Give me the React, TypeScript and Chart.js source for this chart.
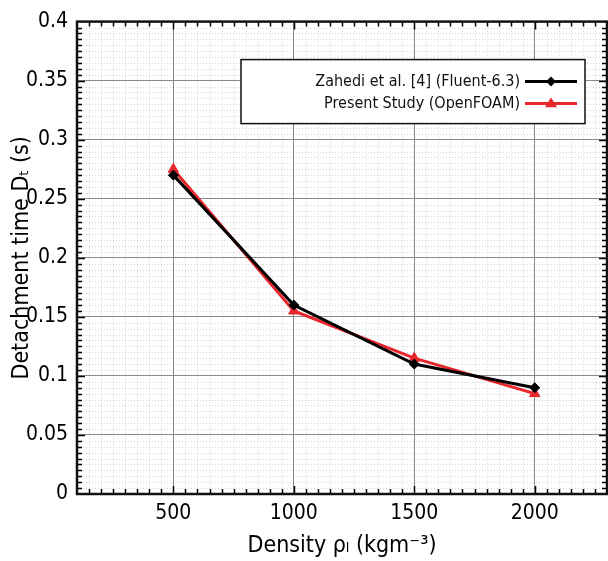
import React, { useEffect, useRef } from 'react';
import { Chart, registerables } from 'chart.js';

Chart.register(...registerables);

// ---- data ----
const densities = [500, 1000, 1500, 2000];
const zahediTimes = [0.27, 0.16, 0.11, 0.09];
const presentTimes = [0.275, 0.155, 0.115, 0.085];
const seriesLabels = ['Zahedi et al. [4] (Fluent-6.3)', 'Present Study (OpenFOAM)'];
const seriesColors = ['#000000', '#e8262b'];
const xTickValues = [500, 1000, 1500, 2000];
const xTickLabels = ['500', '1000', '1500', '2000'];
const yTickValues = [0, 0.05, 0.1, 0.15, 0.2, 0.25, 0.3, 0.35, 0.4];
const yTickLabels = ['0', '0.05', '0.1', '0.15', '0.2', '0.25', '0.3', '0.35', '0.4'];
const xRange = [100, 2300];
const yRange = [0, 0.4];
const xMinorStep = 50;
const yMinorStep = 0.005;

const FONT = '"DejaVu Sans Condensed", "DejaVu Sans", sans-serif';

const framePlugin = {
  id: 'frameAndMinor',
  beforeDatasetsDraw(chart: any) {
    const { ctx, chartArea: a, scales } = chart;
    const xs = scales.x;
    const ys = scales.y;
    ctx.save();
    // minor dotted grid
    ctx.strokeStyle = 'rgba(0,0,0,0.17)';
    ctx.lineWidth = 1;
    ctx.setLineDash([1, 2]);
    const nx = Math.round((xRange[1] - xRange[0]) / xMinorStep);
    for (let i = 1; i < nx; i++) {
      const v = xRange[0] + i * xMinorStep;
      if (xTickValues.includes(v)) continue;
      const px = Math.round(xs.getPixelForValue(v)) + 0.5;
      ctx.beginPath();
      ctx.moveTo(px, a.top);
      ctx.lineTo(px, a.bottom);
      ctx.stroke();
    }
    const ny = Math.round((yRange[1] - yRange[0]) / yMinorStep);
    for (let i = 1; i < ny; i++) {
      if (i % 10 === 0) continue;
      const v = yRange[0] + i * yMinorStep;
      const py = Math.round(ys.getPixelForValue(v)) + 0.5;
      ctx.beginPath();
      ctx.moveTo(a.left, py);
      ctx.lineTo(a.right, py);
      ctx.stroke();
    }
    ctx.setLineDash([]);
    // minor ticks, inward, all four sides
    ctx.strokeStyle = '#000';
    ctx.lineWidth = 1.5;
    for (let i = 1; i < nx; i++) {
      const v = xRange[0] + i * xMinorStep;
      const len = xTickValues.includes(v) ? 8 : 5;
      const px = Math.round(xs.getPixelForValue(v)) + 0.5;
      ctx.beginPath();
      ctx.moveTo(px, a.bottom);
      ctx.lineTo(px, a.bottom - len);
      ctx.moveTo(px, a.top);
      ctx.lineTo(px, a.top + len);
      ctx.stroke();
    }
    for (let i = 1; i < ny; i++) {
      const v = yRange[0] + i * yMinorStep;
      const len = i % 10 === 0 ? 8 : 5;
      const py = Math.round(ys.getPixelForValue(v)) + 0.5;
      ctx.beginPath();
      ctx.moveTo(a.left, py);
      ctx.lineTo(a.left + len, py);
      ctx.moveTo(a.right, py);
      ctx.lineTo(a.right - len, py);
      ctx.stroke();
    }
    // frame
    ctx.lineWidth = 2.5;
    ctx.strokeStyle = '#111';
    ctx.strokeRect(a.left, a.top, a.right - a.left, a.bottom - a.top);
    ctx.restore();
  },
  afterDraw(chart: any) {
    const { ctx, chartArea: a } = chart;
    const right = a.right - 22;
    const top = a.top + 38;
    const w = 344;
    const h = 64;
    const left = right - w;
    ctx.save();
    ctx.fillStyle = '#fff';
    ctx.fillRect(left, top, w, h);
    ctx.strokeStyle = '#111';
    ctx.lineWidth = 1.5;
    ctx.strokeRect(left, top, w, h);
    ctx.font = `16px ${FONT}`;
    ctx.textAlign = 'right';
    ctx.textBaseline = 'middle';
    chart.data.datasets.forEach((ds: any, i: number) => {
      const y = top + 22 + i * 22;
      ctx.fillStyle = '#111';
      ctx.fillText(ds.label, right - 65, y);
      ctx.strokeStyle = ds.borderColor;
      ctx.lineWidth = 3;
      ctx.beginPath();
      ctx.moveTo(right - 60, y);
      ctx.lineTo(right - 8, y);
      ctx.stroke();
      const cx = right - 34;
      ctx.fillStyle = ds.borderColor;
      ctx.beginPath();
      if (ds.pointStyle === 'triangle') {
        const r = 6;
        ctx.moveTo(cx, y - r);
        ctx.lineTo(cx + r, y + r * 0.6);
        ctx.lineTo(cx - r, y + r * 0.6);
      } else {
        const r = 5;
        ctx.moveTo(cx, y - r);
        ctx.lineTo(cx + r, y);
        ctx.lineTo(cx, y + r);
        ctx.lineTo(cx - r, y);
      }
      ctx.closePath();
      ctx.fill();
    });
    ctx.restore();
  },
};

export default function App() {
  const ref = useRef<HTMLCanvasElement | null>(null);

  useEffect(() => {
    document.body.style.margin = '0';
    const canvas = ref.current;
    if (!canvas) return;
    const chart = new Chart(canvas, {
      type: 'line',
      data: {
        datasets: [
          {
            label: seriesLabels[0],
            data: densities.map((d, i) => ({ x: d, y: zahediTimes[i] })),
            borderColor: seriesColors[0],
            backgroundColor: seriesColors[0],
            borderWidth: 3,
            pointStyle: 'rectRot',
            pointRadius: 5,
            pointBorderWidth: 1,
            tension: 0,
          },
          {
            label: seriesLabels[1],
            data: densities.map((d, i) => ({ x: d, y: presentTimes[i] })),
            borderColor: seriesColors[1],
            backgroundColor: seriesColors[1],
            borderWidth: 3,
            pointStyle: 'triangle',
            pointRadius: 6,
            pointBorderWidth: 1,
            tension: 0,
          },
        ],
      },
      options: {
        animation: false,
        responsive: false,
        maintainAspectRatio: false,
        layout: { autoPadding: false, padding: { top: 16, right: 1, left: 0, bottom: 0 } },
        plugins: {
          legend: { display: false },
          tooltip: { enabled: false },
        },
        scales: {
          x: {
            type: 'linear',
            min: xRange[0],
            max: xRange[1],
            afterBuildTicks: (s: any) => {
              s.ticks = xTickValues.map((v) => ({ value: v }));
            },
            afterFit: (s: any) => {
              s.height = 67;
            },
            ticks: {
              color: '#000',
              font: { family: FONT, size: 21 },
              padding: 7,
              maxRotation: 0,
              autoSkip: false,
              callback: (v: any, i: number) => xTickLabels[i],
            },
            grid: { color: '#8a8a8a', lineWidth: 1, drawTicks: false },
            border: { display: false },
            title: {
              display: true,
              text: 'Density ρₗ (kgm⁻³)',
              color: '#000',
              font: { family: FONT, size: 23 },
              padding: { top: 0, bottom: 1 },
            },
          },
          y: {
            type: 'linear',
            min: yRange[0],
            max: yRange[1],
            afterBuildTicks: (s: any) => {
              s.ticks = yTickValues.map((v) => ({ value: v }));
            },
            afterFit: (s: any) => {
              s.width = 77;
            },
            ticks: {
              color: '#000',
              font: { family: FONT, size: 21 },
              padding: 9,
              autoSkip: false,
              callback: (v: any, i: number) => yTickLabels[i],
            },
            grid: { color: '#8a8a8a', lineWidth: 1, drawTicks: false },
            border: { display: false },
            title: {
              display: true,
              text: 'Detachment time Dₜ (s)',
              color: '#000',
              font: { family: FONT, size: 23 },
              padding: { top: 8, bottom: 0 },
            },
          },
        },
      },
      plugins: [framePlugin],
    });
    return () => chart.destroy();
  }, []);

  return (
    <div style={{ width: 608, height: 561, position: 'relative' }}>
      <canvas ref={ref} width={608} height={561} style={{ display: 'block' }} />
    </div>
  );
}
